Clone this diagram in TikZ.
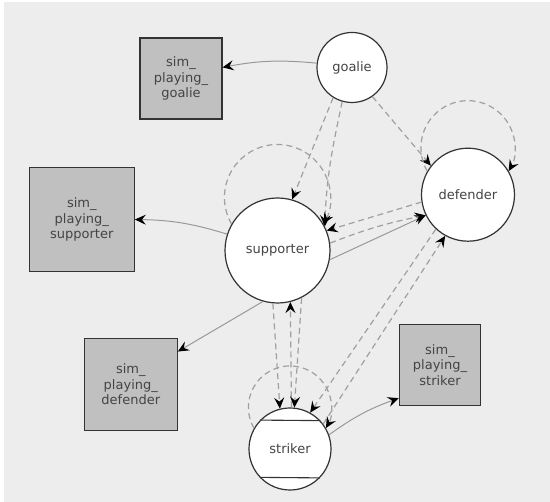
\documentclass[tikz,border=0pt]{standalone}
\usepackage{fontspec}
\setmainfont{DejaVu Sans}
\usetikzlibrary{arrows.meta}
\definecolor{bgc}{HTML}{EDEDED}
\definecolor{boxc}{HTML}{C0C0C0}
\definecolor{txtc}{HTML}{444444}
\definecolor{linec}{HTML}{999999}
\definecolor{dashc}{HTML}{A0A0A0}
\definecolor{outc}{HTML}{333333}
\begin{document}
\begin{tikzpicture}[x=1pt,y=-1pt,
  state/.style={circle, draw=outc, line width=1.2pt, fill=white, inner sep=0pt, text=txtc, font=\fontsize{13}{15.5}\selectfont},
  simbox/.style={rectangle, draw=outc, line width=1.1pt, fill=boxc, inner sep=0pt, text=txtc, align=center, font=\fontsize{13}{15.5}\selectfont},
  arrowtip/.style={-{Stealth[length=11pt,width=10pt,inset=4pt,black]}},
  solidedge/.style={draw=linec, line width=1pt, arrowtip},
  dashedge/.style={draw=dashc, line width=1.2pt, dash pattern=on 6pt off 4pt, arrowtip},
  chord/.style={draw=outc, line width=1.1pt},
]
\useasboundingbox (0,0) rectangle (550,502);
\fill[bgc] (3.5,2) rectangle (550,502);

% states
\node[state, minimum size=70pt] (G) at (352,67.5) {goalie};
\node[state, minimum size=93pt] (D) at (468,194.7) {defender};
\node[state, minimum size=105pt] (S) at (277.5,250.5) {supporter};
\node[state, minimum size=82pt] (K) at (290,449) {striker};
\draw[chord] (K.136.93) -- (K.43.07);
\draw[chord] (K.223.07) -- (K.316.93);

% boxes
\node[simbox, minimum width=82pt, minimum height=81pt] (SG) at (181,78.5) {sim\_\\playing\_\\goalie};
\node[simbox, minimum width=105pt, minimum height=104.4pt] (SS) at (81.8,219.5) {sim\_\\playing\_\\supporter};
\node[simbox, minimum width=93pt, minimum height=92.4pt] (SD) at (130.8,384.5) {sim\_\\playing\_\\defender};
\node[simbox, minimum width=81.4pt, minimum height=81pt] (SK) at (440,364.8) {sim\_\\playing\_\\striker};

% solid edges
\draw[solidedge] (G.173) to[bend right=8] (SG.15);
\draw[solidedge] (S.162) to[bend right=8] (SS.east);
\draw[solidedge] (S.254) -- (SD.35);
\draw[solidedge] (S.350) -- (D.206);
\draw[solidedge] (K.20) to[bend left=8] (SK.219);

% dashed edges
\draw[dashedge] (G.238) -- (S.74);
\draw[dashedge] (G.254) to[out=258,in=88] (S.27);
\draw[dashedge] (G.305) -- (D.142);
\draw[dashedge] (D.189) -- (S.22);
\draw[dashedge] (S.8) to[bend left=5] (D.206);
\draw[dashedge] (S.265) -- (K.104);
\draw[dashedge] (K.88) -- (S.284);
\draw[dashedge] (S.297) -- (K.84);
\draw[dashedge] (D.227) -- (K.61);
\draw[dashedge] (K.37) -- (D.241);

% self loops
\draw[dashedge] (S.150) arc[start angle=210, end angle=-30, radius=53pt];
\draw[dashedge] (D.150) arc[start angle=210, end angle=-30, radius=47pt];
\draw[dashedge] (K.150) arc[start angle=210, end angle=-30, radius=41.5pt];
\end{tikzpicture}
\end{document}
